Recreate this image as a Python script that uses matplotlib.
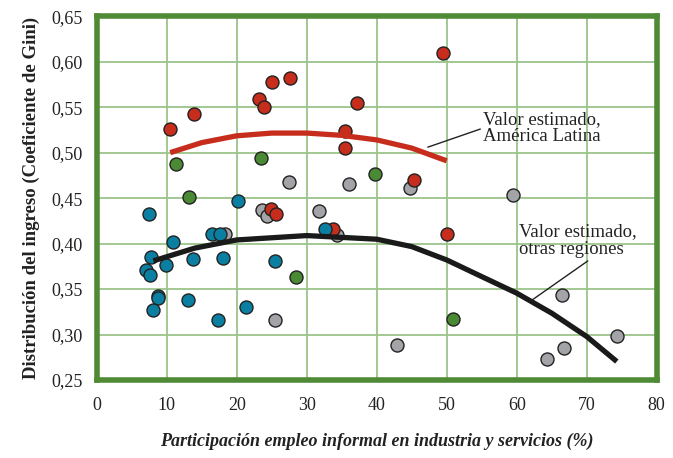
import numpy as np
import matplotlib.pyplot as plt

# scatter points, grouped by colour
red_x = [10.4, 13.9, 25.1, 27.6, 23.2, 23.9, 37.2, 35.5, 35.5, 49.4, 45.3, 50.0, 24.9, 25.6, 33.8]
red_y = [0.526, 0.542, 0.578, 0.582, 0.559, 0.550, 0.555, 0.524, 0.505, 0.610, 0.470, 0.410, 0.438, 0.433, 0.416]

green_x = [11.3, 23.4, 39.8, 13.2, 28.5, 50.9]
green_y = [0.487, 0.494, 0.476, 0.451, 0.363, 0.317]

gray_x = [27.4, 36.0, 23.6, 24.3, 31.8, 18.3, 34.3, 25.5, 44.8, 59.5, 66.4, 42.9, 74.3, 66.8, 64.3]
gray_y = [0.468, 0.465, 0.437, 0.430, 0.436, 0.410, 0.409, 0.316, 0.461, 0.453, 0.344, 0.288, 0.298, 0.285, 0.273]

blue_x = [20.2, 7.5, 16.4, 17.6, 10.9, 32.6, 7.8, 13.7, 18.0, 25.4, 9.9, 7.0, 7.6,
          8.7, 8.7, 13.1, 21.3, 8.1, 17.3]
blue_y = [0.447, 0.433, 0.411, 0.410, 0.402, 0.416, 0.385, 0.383, 0.384, 0.381, 0.376, 0.371, 0.365,
          0.342, 0.340, 0.338, 0.330, 0.327, 0.316]

# fitted curves
latam_x = [10.5, 15, 20, 25, 30, 35, 40, 45, 50]
latam_y = [0.500, 0.511, 0.5185, 0.5215, 0.5215, 0.519, 0.514, 0.505, 0.491]

other_x = [8.1, 14, 20, 30, 40, 45, 50, 55, 60, 65, 70, 74.3]
other_y = [0.381, 0.395, 0.404, 0.4088, 0.4048, 0.3967, 0.382, 0.3637, 0.3455, 0.3235, 0.2978, 0.2703]

xticks = np.arange(0, 81, 10)
yticks = np.arange(0.25, 0.651, 0.05)

frame_green = '#4f8a34'
grid_green = '#9cc48a'
red = '#c62d1c'
green = '#4a8a34'
blue = '#0b7fa2'
gray = '#a3a4a8'

plt.rcParams['font.family'] = ['Liberation Serif', 'DejaVu Serif']

fig = plt.figure(figsize=(6.73, 4.58), dpi=100)
ax = fig.add_axes([0.1437, 0.1703, 0.8321, 0.7943])

for xs, ys, c in [(gray_x, gray_y, gray), (green_x, green_y, green),
                  (red_x, red_y, red), (blue_x, blue_y, blue)]:
    ax.scatter(xs, ys, s=88, c=c, edgecolors='#222222', linewidths=1.0, zorder=3)

ax.plot(latam_x, latam_y, color=red, lw=3.8, solid_capstyle='butt', zorder=4)
ax.plot(other_x, other_y, color='#1a1a1a', lw=3.8, solid_capstyle='butt', zorder=4)

ax.annotate('Valor estimado,\nAmérica Latina', xy=(47.3, 0.506), xytext=(55.2, 0.527),
            fontsize=13.5, ha='left', va='center', color='#222222', linespacing=1.05,
            arrowprops=dict(arrowstyle='-', color='#222222', lw=1.0, shrinkA=0, shrinkB=0,
                            relpos=(0, 0.5)), zorder=5)
ax.annotate('Valor estimado,\notras regiones', xy=(62.2, 0.338), xytext=(60.3, 0.403),
            fontsize=13.5, ha='left', va='center', color='#222222', linespacing=1.05,
            arrowprops=dict(arrowstyle='-', color='#222222', lw=1.0, shrinkA=0, shrinkB=0,
                            relpos=(0.62, 0)), zorder=5)

ax.set_xlim(0, 80)
ax.set_ylim(0.25, 0.65)
ax.set_xticks(xticks)
ax.set_yticks(yticks)
ax.set_yticklabels([f'{v:.2f}'.replace('.', ',') for v in yticks])
ax.tick_params(length=0, labelsize=13, colors='#222222')
ax.tick_params(axis='x', pad=12)
ax.tick_params(axis='y', pad=10)
ax.grid(True, color=grid_green, lw=1.3)
ax.set_axisbelow(True)
for sp in ax.spines.values():
    sp.set_color(frame_green)
    sp.set_linewidth(4)

ax.set_xlabel('Participación empleo informal en industria y servicios (%)', fontsize=13,
              style='italic', weight='bold', color='#222222', labelpad=14)
ax.set_ylabel('Distribución del ingreso (Coeficiente de Gini)', fontsize=13.5,
              weight='bold', color='#222222', labelpad=8)

fig.savefig('out.png', dpi=100)
